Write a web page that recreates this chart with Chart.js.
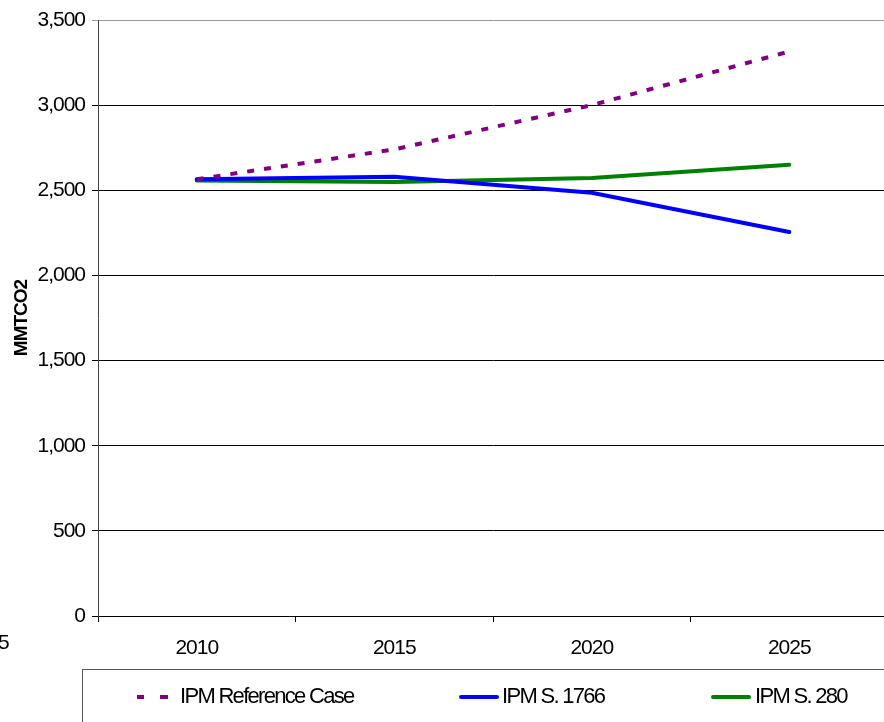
<!DOCTYPE html>
<html>
<head>
    <title>MMTCO2 projections</title>
    <script src="https://cdn.jsdelivr.net/npm/chart.js"></script>
    <style>
        html, body {
            margin: 0;
            padding: 0;
            background: #fff;
            overflow: hidden;
        }
        .wrap {
            position: relative;
            width: 900px;
            height: 722px;
        }
    </style>
</head>
<body>
    <div class="wrap">
        <canvas id="co2Chart" width="900" height="722"></canvas>
    </div>

    <script>
        const years = ['2010', '2015', '2020', '2025'];
        const referenceCase = [2565, 2740, 3000, 3315];
        const s1766 = [2565, 2580, 2485, 2255];
        const s280 = [2558, 2548, 2572, 2650];
        const yTicks = [0, 500, 1000, 1500, 2000, 2500, 3000, 3500];

        const FONT = "'Liberation Sans', Arial, sans-serif";

        // the original text is set tight, so squeeze the letters a bit
        const tightText = {
            id: 'tightText',
            beforeDraw(chart) {
                chart.ctx.letterSpacing = '-1px';
            }
        };

        // legend drawn in a box under the axis, like the original
        const boxLegend = {
            id: 'boxLegend',
            afterDraw(chart) {
                const ctx = chart.ctx;
                ctx.save();
                ctx.strokeStyle = '#555';
                ctx.lineWidth = 1;
                ctx.strokeRect(82.5, 669.5, 900, 80);

                ctx.font = '22px ' + FONT;
                ctx.letterSpacing = '-1.7px';
                ctx.fillStyle = '#000';
                ctx.textBaseline = 'middle';
                const y = 697;
                const ds = chart.data.datasets;

                // dashed sample
                ctx.strokeStyle = ds[0].borderColor;
                ctx.lineWidth = 4;
                ctx.beginPath();
                ctx.moveTo(137, y); ctx.lineTo(144, y);
                ctx.moveTo(160, y); ctx.lineTo(168, y);
                ctx.stroke();
                ctx.fillText(ds[0].label, 180, y);

                ctx.lineCap = 'round';
                ctx.strokeStyle = ds[1].borderColor;
                ctx.beginPath();
                ctx.moveTo(461, y); ctx.lineTo(497, y);
                ctx.stroke();
                ctx.fillText(ds[1].label, 502, y);

                ctx.strokeStyle = ds[2].borderColor;
                ctx.beginPath();
                ctx.moveTo(713, y); ctx.lineTo(749, y);
                ctx.stroke();
                ctx.fillText(ds[2].label, 755, y);

                // leftover label at the far left edge
                ctx.font = '21px ' + FONT;
                ctx.letterSpacing = '-1px';
                ctx.fillText('5', -2, 643);
                ctx.restore();
            }
        };

        const ctx = document.getElementById('co2Chart').getContext('2d');
        new Chart(ctx, {
            type: 'line',
            data: {
                labels: years,
                datasets: [{
                    label: 'IPM Reference Case',
                    data: referenceCase,
                    borderColor: '#800080',
                    borderWidth: 4,
                    borderDash: [7, 10],
                    borderCapStyle: 'butt',
                    pointRadius: 0,
                    tension: 0
                }, {
                    label: 'IPM S. 1766',
                    data: s1766,
                    borderColor: '#0000ff',
                    borderWidth: 4,
                    borderCapStyle: 'round',
                    pointRadius: 0,
                    tension: 0
                }, {
                    label: 'IPM S. 280',
                    data: s280,
                    borderColor: '#008000',
                    borderWidth: 4,
                    borderCapStyle: 'round',
                    pointRadius: 0,
                    tension: 0
                }]
            },
            options: {
                responsive: false,
                animation: false,
                layout: {
                    padding: { left: 0, right: 12, top: 20, bottom: 55 }
                },
                plugins: {
                    legend: { display: false },
                    tooltip: { enabled: false }
                },
                scales: {
                    x: {
                        offset: true,
                        grid: {
                            offset: true,
                            drawOnChartArea: false,
                            drawTicks: true,
                            tickLength: 6,
                            color: '#000'
                        },
                        border: { color: '#000', width: 1 },
                        ticks: {
                            color: '#000',
                            padding: 14,
                            maxRotation: 0,
                            font: { family: FONT, size: 21 }
                        },
                        afterFit(scale) { scale.height = 51; }
                    },
                    y: {
                        min: 0,
                        max: 3500,
                        afterBuildTicks(scale) {
                            scale.ticks = yTicks.map(v => ({ value: v }));
                        },
                        grid: {
                            color: ctx => ctx.tick && ctx.tick.value === 3500 ? '#999' : '#000',
                            lineWidth: 1,
                            tickLength: 6
                        },
                        border: { color: '#444', width: 1 },
                        ticks: {
                            color: '#000',
                            padding: 7,
                            font: { family: FONT, size: 21 },
                            callback: v => v.toLocaleString('en-US')
                        },
                        title: {
                            display: true,
                            text: 'MMTCO2',
                            color: '#000',
                            padding: { top: 10, bottom: 0 },
                            font: { family: FONT, size: 19, weight: 'bold' }
                        },
                        afterFit(scale) { scale.width = 98; }
                    }
                }
            },
            plugins: [tightText, boxLegend]
        });
    </script>
</body>
</html>
